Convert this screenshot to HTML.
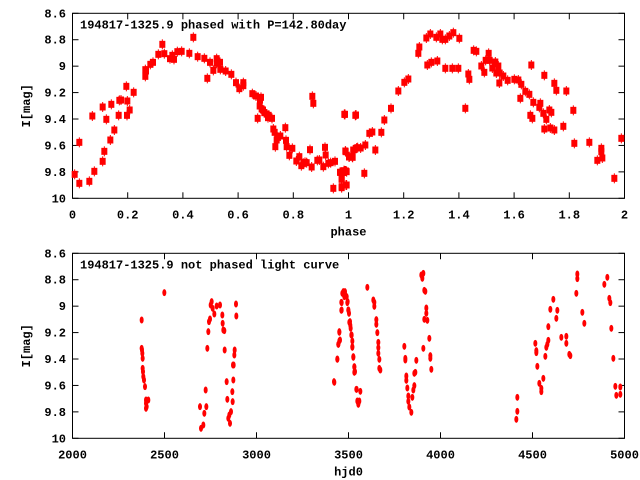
<!DOCTYPE html>
<html><head><meta charset="utf-8"><style>
body{margin:0;background:#fff;}
svg{display:block;font-family:"Liberation Mono","DejaVu Sans Mono",monospace;font-weight:bold;font-size:12px;}
</style></head><body>
<svg id="s" width="640" height="480" xmlns="http://www.w3.org/2000/svg"></svg>
<script>
(function(){
const s=document.getElementById('s');let h='';
const L=72.5,R=624.5;
function frame(t0,bot,xt,title,xlab){
 h+=`<rect x="${L}" y="${t0}" width="${R-L}" height="${bot-t0}" fill="none" stroke="#000" stroke-width="1"/>`;
 const ys=['8.6','8.8','9','9.2','9.4','9.6','9.8','10'];
 ys.forEach((t,i)=>{const y=t0+(bot-t0)*i/7;
  h+=`<line x1="${L}" x2="${L+6}" y1="${y}" y2="${y}" stroke="#000"/><line x1="${R}" x2="${R-6}" y1="${y}" y2="${y}" stroke="#000"/>`;
  h+=`<text x="66" y="${y+4}" text-anchor="end">${t}</text>`;});
 xt.forEach((t,i)=>{const x=L+(R-L)*i/(xt.length-1);
  h+=`<line x1="${x}" x2="${x}" y1="${bot}" y2="${bot-6}" stroke="#000"/><line x1="${x}" x2="${x}" y1="${t0}" y2="${t0+6}" stroke="#000"/>`;
  h+=`<text x="${x}" y="${bot+20}" text-anchor="middle">${t}</text>`;});
 h+=`<text x="80" y="${t0+15}">${title}</text>`;
 h+=`<text x="${(L+R)/2}" y="${bot+37}" text-anchor="middle">${xlab}</text>`;
 h+=`<text transform="translate(30,${(t0+bot)/2}) rotate(-90)" text-anchor="middle">I[mag]</text>`;
}
frame(13.3,198.3,['0','0.2','0.4','0.6','0.8','1','1.2','1.4','1.6','1.8','2'],'194817-1325.9 phased with P=142.80day','phase');
frame(253.3,438.3,['2000','2500','3000','3500','4000','4500','5000'],'194817-1325.9 not phased light curve','hjd0');
function sq(X,y){h+=`<line x1="${X}" x2="${X}" y1="${y-5}" y2="${y+5}" stroke="#f00"/><rect x="${X-3}" y="${y-3.5}" width="6" height="7" fill="#f00"/>`;}
function el(x,y){h+=`<ellipse cx="${x}" cy="${y}" rx="2" ry="3.5" fill="#f00"/>`;}
const pts=[[224,523],[238,550],[238,427],[268,544],[283,514],[277,348],[308,321],[313,454],[319,358],[308,484],[331,420],[343,390],[334,313],[358,301],[356,346],[363,300],[382,303],[381,346],[389,330],[379,259],[401,277],[436,229],[436,209],[438,213],[451,193],[459,187],[475,163],[487,133],[493,161],[510,176],[517,166],[522,178],[532,155],[545,154],[568,160],[580,112],[593,170],[613,175],[630,187],[622,235],[640,211],[650,176],[650,190],[660,187],[661,208],[677,213],[694,223],[708,248],[718,266],[730,248],[730,257],[757,281],[768,288],[773,355],[779,318],[780,300],[783,292],[785,327],[789,330],[793,338],[800,342],[804,353],[806,346],[816,355],[820,387],[824,397],[826,440],[830,420],[833,412],[841,408],[856,383],[858,421],[860,440],[868,466],[877,445],[889,483],[898,470],[904,497],[910,490],[915,487],[920,488],[930,449],[937,289],[940,310],[935,501],[952,481],[958,480],[970,500],[975,442],[977,465],[985,490],[992,488],[1000,565],[1005,484],[1020,517],[1025,538],[1025,563],[1035,513],[1040,515],[1037,455],[1035,343],[1040,555],[1048,470],[1058,472],[1060,450],[1068,345],[1073,443]];
pts.forEach(([a,b])=>sq(a/3,b/3));
const pr=[[5,530],[18,525],[5,507],[2,487],[12,482],[18,483],[16,423],[13,313],[46,316],[27,441],[37,441],[40,420],[50,414],[62,414],[76,405],[73,490],[88,370],[97,366],[106,420],[124,367],[133,330],[153,295],[175,243],[193,217],[205,207],[235,130],[238,111],[259,84],[271,72],[262,165],[274,157],[292,153],[289,82],[301,72],[307,88],[316,88],[316,175],[328,78],[337,175],[340,68],[355,175],[358,85],[376,295],[385,192],[388,208],[401,121],[409,124],[424,168],[433,187],[437,151],[446,130],[449,151],[457,174],[466,156],[469,189],[475,168],[479,189],[478,219],[490,198],[503,211],[523,208],[535,210],[544,223],[541,265],[556,244],[568,253],[571,316],[577,325],[574,165],[580,277],[598,292],[601,280],[610,310],[613,357],[613,196],[619,328],[628,300],[631,354],[634,307],[643,220],[643,360],[649,241],[670,349],[679,243],[700,301],[703,400],[748,397],[772,451],[784,415],[784,425],[787,444],[823,505],[844,385]];
pr.forEach(([a,b])=>sq(340+a/3,10+b/3));
const b2=[[425,240],[425,325],[426,330],[427,340],[428,355],[428,385],[429,395],[430,410],[432,420],[435,440],[438,480],[438,490],[440,500],[438,505],[445,480],[493,158],[600,500],[603,565],[610,555],[613,520],[617,450],[619,500],[622,325],[625,275],[627,245],[630,237],[632,195],[635,185],[638,205],[643,222],[650,198],[660,195],[667,225],[668,250],[670,270],[673,272],[674,330],[680,425],[682,478],[685,535],[688,525],[690,550],[693,515],[697,455],[698,485],[699,375],[700,420],[701,375],[703,345],[704,330],[708,192],[709,228],[1002,425],[1012,357],[1015,313],[1018,275],[1020,300],[1025,188],[1025,210],[1030,160],[1035,155],[1040,170],[1043,185],[1045,210],[1047,220],[1050,245],[1052,265],[1055,285],[1057,320],[1060,350],[1063,380],[1065,395],[1070,448],[1075,490]];
b2.forEach(([a,b])=>el(a/3,b/3+240));
const b3=[[13,397],[22,328],[25,283],[28,273],[28,247],[34,181],[34,157],[37,130],[40,125],[43,140],[46,135],[52,158],[55,180],[58,217],[61,226],[64,255],[67,273],[67,292],[70,322],[73,351],[73,367],[79,418],[82,453],[85,463],[88,453],[91,424],[112,112],[130,150],[133,157],[133,169],[139,209],[139,223],[142,248],[145,277],[145,293],[145,310],[148,328],[148,355],[151,360],[223,289],[226,325],[226,330],[229,378],[229,391],[232,414],[235,438],[235,454],[238,471],[244,487],[247,442],[250,420],[253,407],[253,370],[256,367],[259,331],[274,75],[277,85],[280,70],[283,121],[286,124],[280,295],[283,208],[289,174],[289,190],[292,211],[298,265],[301,317],[301,325],[304,358],[562,442],[562,484],[559,508],[616,280],[619,302],[619,308],[622,349],[628,400],[634,415],[634,425],[640,385],[646,319],[649,292],[652,283],[655,271],[655,230],[661,178],[670,148],[679,205],[682,181],[694,262],[709,259],[709,280],[718,313],[721,317],[739,130],[742,72],[742,86],[757,187],[763,220],[823,103],[832,82],[838,145],[841,158],[844,235],[850,325],[856,409],[859,436],[871,411],[871,433]];
b3.forEach(([a,b])=>el(330+a/3,250+b/3));
s.innerHTML=h;
})();
</script>
</body></html>
